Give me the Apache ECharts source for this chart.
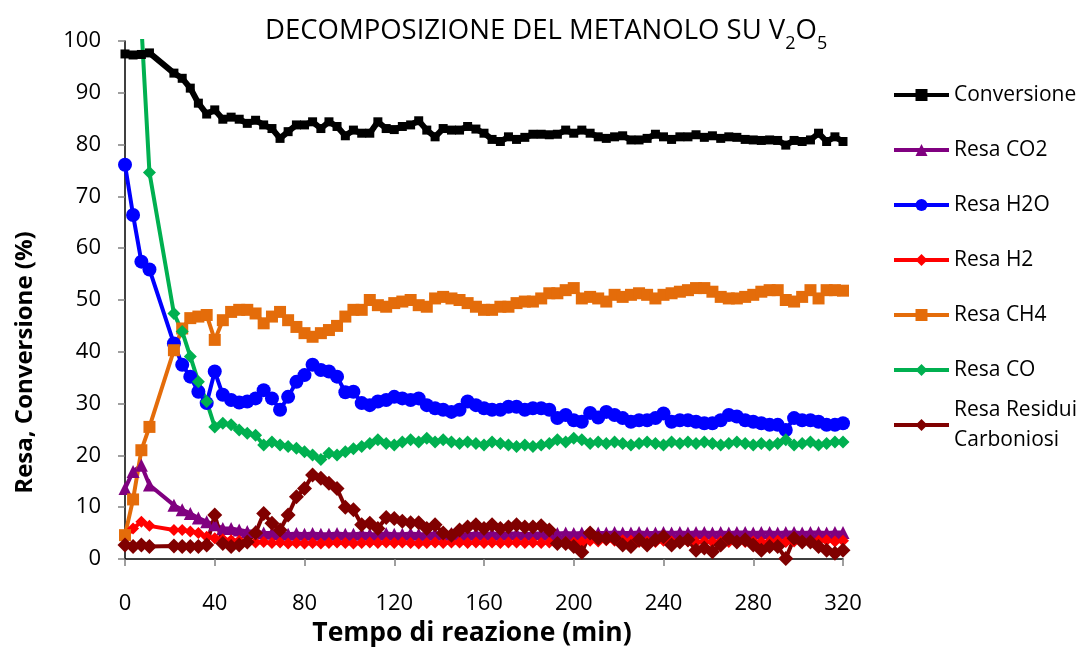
<!DOCTYPE html>
<html>
<head>
<meta charset="utf-8">
<script src="https://cdn.jsdelivr.net/npm/echarts@6/dist/echarts.min.js"></script>
<style>
html,body{margin:0;padding:0;background:#fff;}
#chart{width:1082px;height:653px;}
</style>
</head>
<body>
<div id="chart"></div>
<script>
// Reaction time (min)
var tempo = [0, 3.6, 7.3, 10.9, 21.8, 25.5, 29.1, 32.7, 36.4, 40.0,
  43.6, 47.3, 50.9, 54.5, 58.2, 61.8, 65.5, 69.1, 72.7, 76.4,
  80.0, 83.6, 87.3, 90.9, 94.5, 98.2, 101.8, 105.5, 109.1, 112.7,
  116.4, 120.0, 123.6, 127.3, 130.9, 134.5, 138.2, 141.8, 145.5, 149.1,
  152.7, 156.4, 160.0, 163.6, 167.3, 170.9, 174.5, 178.2, 181.8, 185.5,
  189.1, 192.7, 196.4, 200.0, 203.6, 207.3, 210.9, 214.5, 218.2, 221.8,
  225.5, 229.1, 232.7, 236.4, 240.0, 243.6, 247.3, 250.9, 254.5, 258.2,
  261.8, 265.5, 269.1, 272.7, 276.4, 280.0, 283.6, 287.3, 290.9, 294.5,
  298.2, 301.8, 305.5, 309.1, 312.7, 316.4, 320.0];

var conversione = [97.5, 97.3, 97.4, 97.7, 93.8, 92.8, 90.9, 88.0, 85.9, 86.7,
  84.9, 85.3, 84.9, 84.1, 84.7, 83.8, 83.1, 81.2, 82.5, 83.8,
  83.8, 84.4, 83.1, 84.4, 83.5, 81.7, 82.8, 82.2, 82.2, 84.4,
  83.1, 82.9, 83.5, 83.8, 84.6, 82.8, 81.5, 83.1, 82.8, 82.8,
  83.5, 83.0, 82.2, 81.0, 80.6, 81.5, 81.0, 81.4, 82.0, 82.0,
  81.9, 82.0, 82.8, 82.2, 82.8, 82.2, 81.5, 81.2, 81.5, 81.7,
  80.9, 80.9, 81.2, 82.0, 81.5, 81.0, 81.5, 81.5, 81.9, 81.4,
  81.7, 81.2, 81.5, 81.4, 81.0, 80.9, 80.8, 80.9, 80.8, 79.9,
  80.8, 80.6, 80.9, 82.2, 80.6, 81.5, 80.6];

var resaCO2 = [13.6, 16.9, 18.1, 14.3, 10.4, 9.5, 8.8, 7.9, 7.2, 6.6,
  5.9, 5.9, 5.6, 5.3, 5.3, 5.0, 5.0, 4.9, 4.8, 4.9,
  4.8, 4.9, 4.8, 4.8, 4.9, 4.8, 4.8, 4.9, 4.8, 4.8,
  4.9, 4.8, 4.8, 4.9, 4.8, 4.8, 4.9, 4.8, 4.9, 4.8,
  4.8, 4.9, 4.8, 4.9, 4.8, 4.9, 4.9, 4.8, 4.9, 4.9,
  4.8, 4.9, 5.0, 4.9, 5.0, 5.0, 5.0, 5.0, 5.1, 5.0,
  5.0, 5.1, 5.0, 5.0, 5.1, 5.0, 5.1, 5.0, 5.1, 5.1,
  5.0, 5.1, 5.0, 5.1, 5.1, 5.0, 5.1, 5.1, 5.0, 5.1,
  5.1, 5.0, 5.1, 5.1, 5.0, 5.1, 5.1];

var resaH2O = [76.1, 66.4, 57.4, 55.9, 41.6, 37.5, 35.2, 32.3, 30.1, 36.2,
  31.7, 30.7, 30.2, 30.4, 31.0, 32.6, 31.0, 28.8, 31.3, 34.2,
  35.5, 37.5, 36.5, 36.2, 35.2, 32.2, 32.3, 30.1, 29.7, 30.4,
  30.7, 31.3, 31.0, 30.7, 31.0, 29.7, 29.1, 28.8, 28.4, 28.8,
  30.4, 29.7, 29.1, 28.8, 28.8, 29.4, 29.4, 28.8, 29.1, 29.1,
  28.8, 27.2, 27.8, 26.8, 26.5, 28.2, 27.3, 28.4, 27.8, 27.2,
  26.5, 26.8, 26.8, 27.2, 28.1, 26.5, 26.8, 26.8, 26.5, 26.2,
  26.2, 26.8, 27.8, 27.5, 26.8, 26.5, 26.2, 25.9, 25.9, 24.9,
  27.2, 26.8, 26.8, 26.5, 25.9, 25.9, 26.2];

var resaH2 = [4.0, 5.9, 7.2, 6.4, 5.6, 5.6, 5.3, 5.0, 4.3, 4.0,
  3.8, 3.6, 3.5, 3.3, 3.2, 3.3, 3.1, 3.2, 3.0, 3.1,
  3.0, 3.1, 3.0, 3.1, 3.2, 3.1, 3.0, 3.1, 3.2, 3.1,
  3.2, 3.1, 3.2, 3.1, 3.0, 3.1, 3.2, 3.1, 3.2, 3.2,
  3.1, 3.2, 3.1, 3.2, 3.1, 3.2, 3.2, 3.1, 3.2, 3.1,
  3.2, 3.1, 3.3, 3.2, 3.3, 3.5, 3.4, 3.6, 3.5, 3.6,
  3.5, 3.3, 3.4, 3.3, 3.5, 3.4, 3.3, 3.4, 3.3, 3.4,
  3.3, 3.4, 3.3, 3.4, 3.3, 3.4, 3.3, 3.4, 3.5, 3.3,
  3.4, 3.5, 3.4, 3.5, 3.6, 3.4, 3.5];

var resaCH4 = [4.6, 11.5, 21.0, 25.5, 40.3, 44.5, 46.5, 46.8, 47.1, 42.3,
  46.1, 47.7, 48.1, 48.1, 47.4, 45.5, 46.8, 47.7, 46.1, 44.8,
  43.6, 42.9, 43.6, 44.2, 45.0, 46.8, 48.1, 48.1, 50.0, 49.0,
  48.7, 49.4, 49.7, 50.0, 49.0, 48.7, 50.3, 50.6, 50.3, 50.0,
  49.4, 48.7, 48.1, 48.1, 48.7, 48.7, 49.4, 49.7, 49.7, 50.3,
  51.3, 51.3, 51.9, 52.3, 50.3, 50.6, 50.3, 49.7, 51.0, 50.6,
  51.0, 51.3, 51.0, 50.3, 51.0, 51.3, 51.6, 51.9, 52.3, 52.3,
  51.6, 50.6, 50.3, 50.3, 50.6, 51.0, 51.6, 51.9, 51.9, 50.0,
  49.7, 50.6, 51.9, 50.3, 51.9, 51.9, 51.8];

var resaCO = [null, null, 103, 74.6, 47.4, 43.9, 39.1, 34.2, 30.4, 25.5,
  26.2, 25.9, 24.9, 24.3, 23.9, 22.0, 22.6, 22.0, 21.7, 21.4,
  20.7, 20.1, 19.2, 20.4, 20.1, 20.7, 21.3, 21.7, 22.3, 23.0,
  22.3, 22.0, 22.6, 23.0, 22.6, 23.3, 22.6, 23.0, 22.6, 22.3,
  22.6, 22.3, 22.0, 22.6, 22.3, 22.0, 21.7, 22.0, 21.7, 22.0,
  22.3, 23.0, 22.6, 23.3, 23.0, 22.3, 22.6, 22.3, 22.6, 22.3,
  22.0, 22.3, 22.6, 22.3, 22.0, 22.6, 22.3, 22.6, 22.3, 22.6,
  22.3, 22.0, 22.3, 22.6, 22.3, 22.0, 22.3, 22.0, 22.3, 23.0,
  22.0, 22.3, 22.6, 22.0, 22.3, 22.6, 22.6];

var resaResidui = [2.7, 2.4, 2.7, 2.4, 2.5, 2.4, 2.4, 2.4, 2.7, 8.5,
  3.0, 2.4, 2.7, 3.3, 5.0, 8.8, 6.9, 5.6, 8.5, 12.0,
  13.6, 16.2, 15.6, 14.6, 13.6, 10.0, 9.5, 6.6, 6.9, 5.9,
  8.0, 7.8, 7.3, 7.0, 7.0, 5.9, 6.6, 5.0, 4.6, 5.6,
  6.2, 6.6, 5.9, 6.6, 5.9, 6.2, 6.6, 6.2, 6.2, 6.4,
  5.6, 3.0, 3.0, 2.4, 1.3, 5.0, 4.0, 4.0, 4.0, 2.7,
  2.4, 3.7, 2.7, 3.7, 4.3, 2.7, 3.3, 3.7, 1.7, 2.1,
  1.4, 2.7, 4.0, 3.3, 3.7, 2.7, 1.7, 2.4, 2.4, 0.1,
  4.0, 3.3, 3.3, 2.4, 1.7, 1.1, 1.7];

var seriesNames = ['Conversione', 'Resa CO2', 'Resa H2O', 'Resa H2', 'Resa CH4', 'Resa CO', 'Resa Residui\nCarboniosi'];
var xTicks = [0, 40, 80, 120, 160, 200, 240, 280, 320];
var yTicks = [0, 10, 20, 30, 40, 50, 60, 70, 80, 90, 100];

function pairs(vals) {
  return tempo.map(function (t, i) { return [t, vals[i]]; });
}

var FONT = 'Open Sans';
var styles = [
  { color: '#000000', symbol: 'rect', size: 9, width: 6 },
  { color: '#800080', symbol: 'triangle', size: 13, width: 4 },
  { color: '#0000FF', symbol: 'circle', size: 14, width: 4 },
  { color: '#FF0000', symbol: 'diamond', size: 12, width: 4 },
  { color: '#E46C0A', symbol: 'rect', size: 12, width: 4 },
  { color: '#00B050', symbol: 'diamond', size: 13, width: 4 },
  { color: '#800000', symbol: 'diamond', size: 15, width: 4 }
];
var allData = [conversione, resaCO2, resaH2O, resaH2, resaCH4, resaCO, resaResidui];

var series = allData.map(function (vals, k) {
  var s = styles[k];
  return {
    name: seriesNames[k],
    type: 'line',
    data: pairs(vals),
    symbol: s.symbol,
    symbolSize: s.size,
    showAllSymbol: true,
    connectNulls: false,
    clip: true,
    animation: false,
    lineStyle: { color: s.color, width: s.width },
    itemStyle: { color: s.color, borderWidth: 0 }
  };
});

var legendCommon = {
  orient: 'vertical',
  left: 887,
  itemWidth: 55,
  itemHeight: 15,
  lineStyle: { width: 4 },
  selectedMode: false
};

var chart = echarts.init(document.getElementById('chart'), null, { renderer: 'canvas' });
chart.setOption({
  backgroundColor: '#ffffff',
  animation: false,
  textStyle: { fontFamily: FONT },
  title: {
    text: '{m|DECOMPOSIZIONE DEL METANOLO SU V}{sub|2}{m|O}{sub|5}',
    left: 260,
    top: 12,
    textStyle: {
      fontFamily: FONT,
      fontSize: 27.5,
      fontWeight: 'normal',
      color: '#000',
      rich: {
        m: { fontFamily: FONT, fontSize: 27.5, lineHeight: 32, color: '#000', verticalAlign: 'top' },
        sub: { fontFamily: FONT, fontSize: 18, lineHeight: 18, padding: [18, 0, 0, 0], verticalAlign: 'top', color: '#000' }
      }
    }
  },
  legend: [
    Object.assign({}, legendCommon, {
      data: seriesNames.slice(0, 6),
      top: 79,
      itemGap: 33,
      textStyle: { fontFamily: FONT, fontSize: 21, color: '#000', lineHeight: 22 }
    }),
    Object.assign({}, legendCommon, {
      data: [seriesNames[6]],
      top: 375,
      textStyle: { fontFamily: FONT, fontSize: 21, color: '#000', lineHeight: 30, padding: [30, 0, 0, 0] }
    })
  ],
  grid: { left: 125, right: 239, top: 41, bottom: 94, containLabel: false },
  xAxis: {
    type: 'value',
    min: xTicks[0],
    max: xTicks[xTicks.length - 1],
    interval: 40,
    name: 'Tempo di reazione (min)',
    nameLocation: 'middle',
    nameGap: 61,
    nameTextStyle: { fontFamily: FONT, fontSize: 26.5, fontWeight: 'bold', color: '#000', padding: [0, 24, 0, 0] },
    axisLine: { show: true, lineStyle: { color: '#000', width: 1.5 } },
    axisTick: { show: true, inside: false, length: 7, lineStyle: { color: '#808080', width: 1.5 } },
    axisLabel: { fontFamily: FONT, fontSize: 22, color: '#000', margin: 34 },
    splitLine: { show: false }
  },
  yAxis: {
    type: 'value',
    min: yTicks[0],
    max: yTicks[yTicks.length - 1],
    interval: 10,
    name: 'Resa, Conversione (%)',
    nameLocation: 'middle',
    nameGap: 88,
    nameRotate: 90,
    nameTextStyle: { fontFamily: FONT, fontSize: 24, fontWeight: 'bold', color: '#000', padding: [0, 125, 0, 0] },
    axisLine: { show: true, lineStyle: { color: '#000', width: 1.5 } },
    axisTick: { show: true, inside: false, length: 7, lineStyle: { color: '#808080', width: 1.5 } },
    axisLabel: { fontFamily: FONT, fontSize: 22, color: '#000', margin: 24 },
    splitLine: { show: false }
  },
  series: series
});
</script>
</body>
</html>
